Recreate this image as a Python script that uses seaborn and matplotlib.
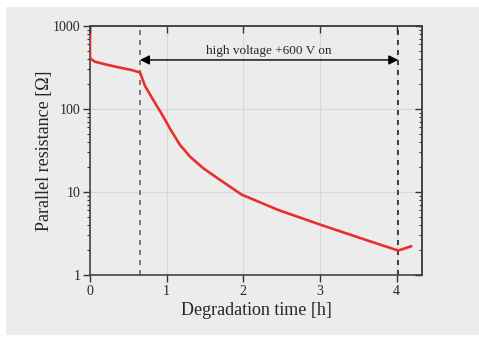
import numpy as np
import pandas as pd
import seaborn as sns
import matplotlib.pyplot as plt
from matplotlib.patches import Rectangle
from matplotlib.ticker import LogLocator, NullFormatter

# values
time_h = [0.0, 0.0, 0.065, 0.196, 0.37, 0.54, 0.652, 0.717, 0.826, 0.956, 1.043,
          1.173, 1.304, 1.478, 1.695, 1.978, 2.45, 3.0, 3.65, 4.02, 4.19]
resistance = [1000, 408, 371, 346, 318, 295, 276, 190, 128, 81, 58,
              37, 26.7, 19.3, 14, 9.3, 6.1, 4.05, 2.55, 1.97, 2.22]
hv_start, hv_end = 0.652, 4.02
arrow_level = 390
x_ticks = [0, 1, 2, 3, 4]
y_ticks = [1, 10, 100, 1000]

df = pd.DataFrame({'time': time_h, 'R': resistance})

sns.set_style('ticks')
plt.rcParams['font.family'] = ['Liberation Serif', 'DejaVu Serif']

bg = '#ececec'
fig = plt.figure(figsize=(4.79, 3.38), dpi=100, facecolor='white')
fig.patches.append(Rectangle((6 / 479, 3 / 338), 473 / 479, 328 / 338,
                             transform=fig.transFigure, facecolor=bg,
                             edgecolor='none', zorder=-10))
ax = fig.add_axes([90 / 479, 63 / 338, 332 / 479, 249 / 338])
ax.set_facecolor(bg)

ax.set_yscale('log')
ax.set_xlim(0, 4.33)
ax.set_ylim(1, 1000)

ax.grid(True, which='major', color='#d9d9d9', linewidth=0.8)
ax.set_axisbelow(True)

for xv, col in [(hv_start, '#666666'), (hv_end, '#222222')]:
    ax.axvline(xv, color=col, linestyle=(0, (3, 3)), linewidth=1.2, zorder=2)

sns.lineplot(data=df, x='time', y='R', ax=ax, color='#e8302a', linewidth=1.9,
             sort=False, estimator=None, zorder=3)

ax.annotate('', xy=(hv_start, arrow_level), xytext=(hv_end, arrow_level),
            arrowprops=dict(arrowstyle='<|-|>', color='black', lw=1.0,
                            mutation_scale=14, shrinkA=0, shrinkB=0))
ax.text((hv_start + hv_end) / 2, arrow_level * 1.08, 'high voltage +600 V on',
        ha='center', va='bottom', fontsize=9.5)

ax.set_xticks(x_ticks)
ax.set_xticklabels([str(v) for v in x_ticks])
ax.set_yticks(y_ticks)
ax.set_yticklabels([str(v) for v in y_ticks])
ax.yaxis.set_minor_locator(LogLocator(base=10, subs=np.arange(2, 10)))
ax.yaxis.set_minor_formatter(NullFormatter())
ax.tick_params(axis='both', which='major', direction='out', length=5,
               width=1.0, color='#333333', labelsize=10, pad=2)
ax.tick_params(axis='y', which='minor', direction='out', length=2.5,
               width=0.8, color='#333333')

# top and right ticks point inward, like the original
top = ax.secondary_xaxis('top')
top.set_xticks(x_ticks)
top.tick_params(direction='in', length=5, width=1.0, color='#333333', labeltop=False)
right = ax.secondary_yaxis('right')
right.set_yticks(y_ticks)
right.yaxis.set_minor_locator(LogLocator(base=10, subs=np.arange(2, 10)))
right.yaxis.set_minor_formatter(NullFormatter())
right.tick_params(which='major', direction='in', length=5, width=1.0,
                  color='#333333', labelright=False)
right.tick_params(which='minor', direction='in', length=2.5, width=0.8,
                  color='#333333')
top.set_zorder(5)
right.set_zorder(5)

for a in (ax, top, right):
    for s in a.spines.values():
        s.set_color('#444444')
        s.set_linewidth(1.2)

ax.set_xlabel('Degradation time [h]', fontsize=13, labelpad=3)
ax.set_ylabel('Parallel resistance [Ω]', fontsize=13, labelpad=0)

plt.savefig('out.png', dpi=100, facecolor='white')
